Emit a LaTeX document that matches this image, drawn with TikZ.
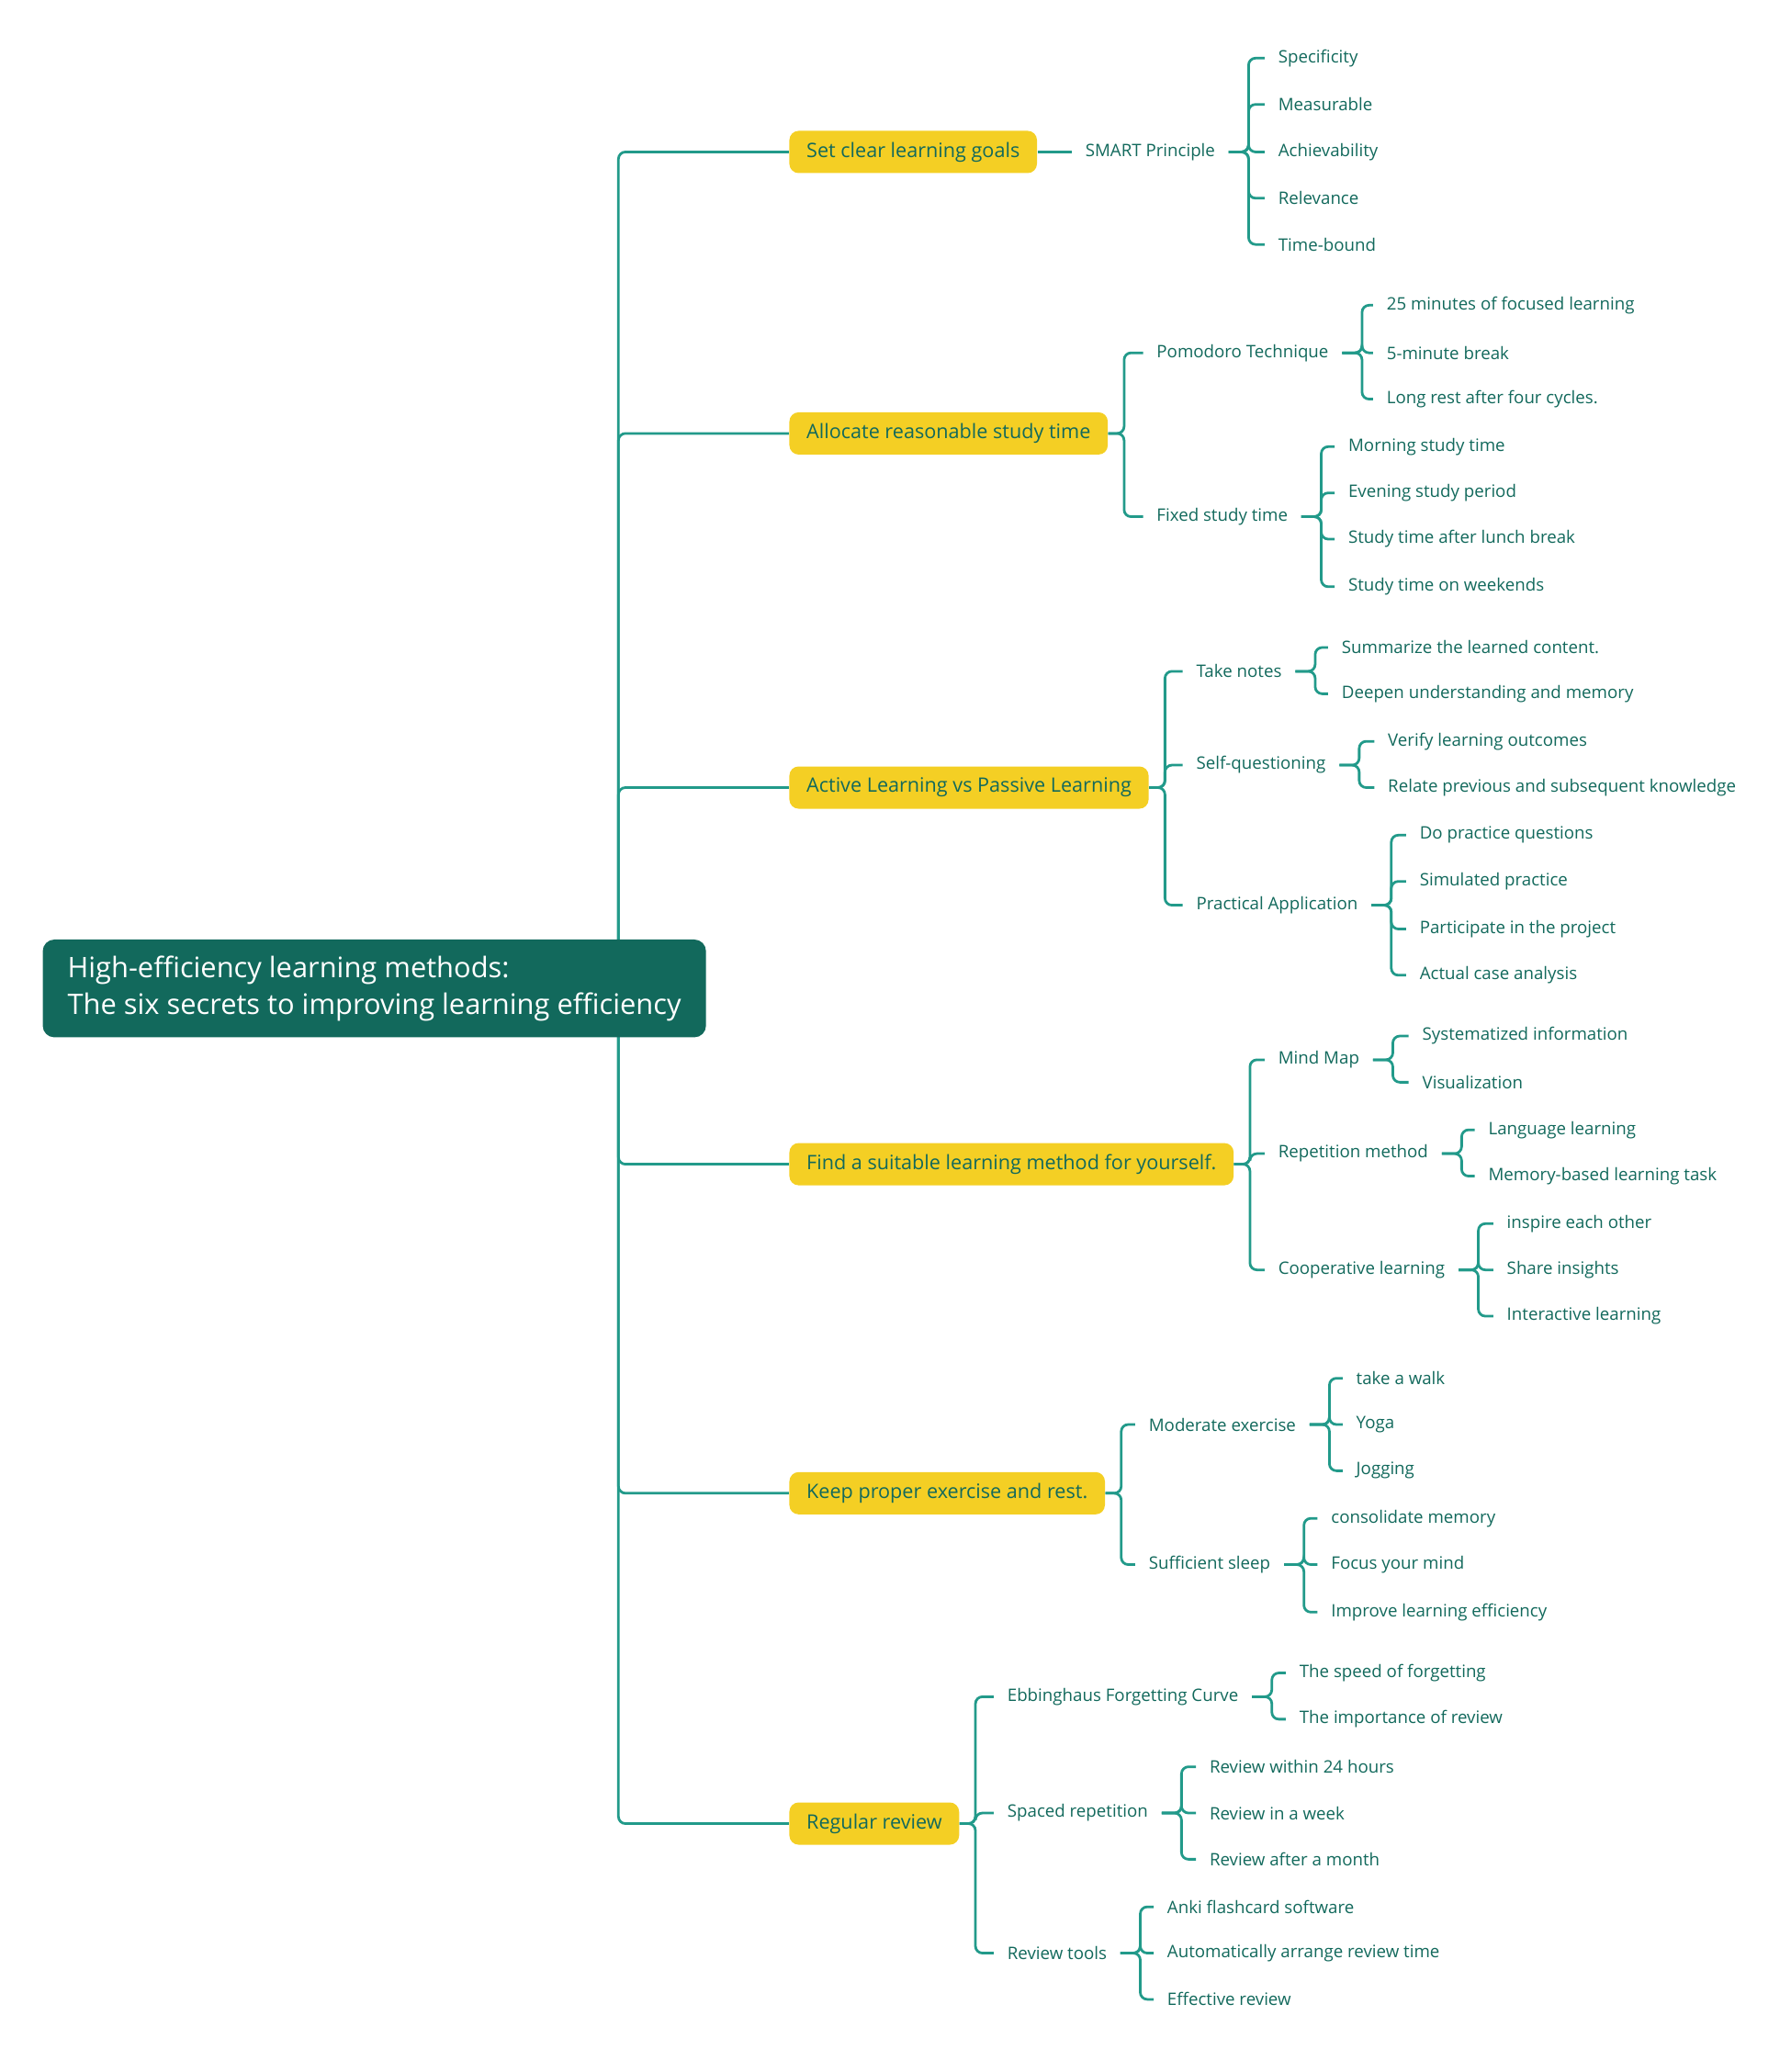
\documentclass[tikz,border=0pt]{standalone}
\usepackage{fontspec}
\setmainfont{Open Sans}
\usetikzlibrary{positioning}

\definecolor{deepteal}{HTML}{12695C}
\definecolor{linkteal}{HTML}{229A8A}
\definecolor{goalyellow}{HTML}{F4CF24}

% one bracket from a parent to its children
\newcommand\branchto[4]{%
  \foreach \c in {#4}{\draw[#1] (#2.east) -- ++(#3,0) |- (\c.west);}}

\begin{document}
\begin{tikzpicture}[
    x=0.02cm, y=-0.02cm,
    link/.style={draw=linkteal, line width=1.1pt, rounded corners=3pt, shorten >=5.7pt},
    sublink/.style={link, shorten <=5.7pt},
    goal/.style={rectangle, fill=goalyellow, rounded corners=4pt, anchor=west,
        minimum height=0.64cm, inner xsep=0.26cm, text=deepteal, font=\fontsize{8.55}{11}\selectfont},
    leaf/.style={anchor=west, inner sep=0pt, text=deepteal, font=\fontsize{7.4}{9}\selectfont},
    root/.style={rectangle, fill=deepteal, rounded corners=5pt, text=white, align=left,
        minimum width=10.04cm, minimum height=1.48cm, inner xsep=0.32cm,
        font=\fontsize{12.2}{16}\selectfont}
]
\useasboundingbox (0,0) rectangle (1355,1568);

% Goals
\node[goal] (g1) at (597,115) {Set clear learning goals};
\node[goal] (g2) at (597,328) {Allocate reasonable study time};
\node[goal] (g3) at (597,596) {Active Learning vs Passive Learning};
\node[goal] (g4) at (597,881) {Find a suitable learning method for yourself.};
\node[goal] (g5) at (597,1130) {Keep proper exercise and rest.};
\node[goal] (g6) at (597,1380) {Regular review};

% Goal 1
\node[leaf] (smart) at (821,115) {SMART Principle};
\node[leaf] (spec) at (967,44) {Specificity};
\node[leaf] (meas) at (967,79) {Measurable};
\node[leaf] (achv) at (967,115) {Achievability};
\node[leaf] (relv) at (967,150) {Relevance};
\node[leaf] (time) at (967,185) {Time-bound};

% Goal 2
\node[leaf] (pomo) at (875,267) {Pomodoro Technique};
\node[leaf] (pomoa) at (1049,231) {25 minutes of focused learning};
\node[leaf] (pomob) at (1049,267) {5-minute break};
\node[leaf] (pomoc) at (1049,302) {Long rest after four cycles.};
\node[leaf] (fixed) at (875,391) {Fixed study time};
\node[leaf] (fixa) at (1020,338) {Morning study time};
\node[leaf] (fixb) at (1020,373) {Evening study period};
\node[leaf] (fixc) at (1020,408) {Study time after lunch break};
\node[leaf] (fixd) at (1020,444) {Study time on weekends};

% Goal 3
\node[leaf] (notes) at (905,508) {Take notes};
\node[leaf] (notea) at (1015,490) {Summarize the learned content.};
\node[leaf] (noteb) at (1015,525) {Deepen understanding and memory};
\node[leaf] (selfq) at (905,579) {Self-questioning};
\node[leaf] (selfa) at (1050,561) {Verify learning outcomes};
\node[leaf] (selfb) at (1050,596) {Relate previous and subsequent knowledge};
\node[leaf] (pract) at (905,685) {Practical Application};
\node[leaf] (practa) at (1074,632) {Do practice questions};
\node[leaf] (practb) at (1074,667) {Simulated practice};
\node[leaf] (practc) at (1074,703) {Participate in the project};
\node[leaf] (practd) at (1074,738) {Actual case analysis};

% Goal 4
\node[leaf] (mind) at (967,802) {Mind Map};
\node[leaf] (minda) at (1076,784) {Systematized information};
\node[leaf] (mindb) at (1076,819) {Visualization};
\node[leaf] (repet) at (967,873) {Repetition method};
\node[leaf] (repa) at (1126,855) {Language learning};
\node[leaf] (repb) at (1126,890) {Memory-based learning task};
\node[leaf] (coop) at (967,961) {Cooperative learning};
\node[leaf] (coopa) at (1140,926) {inspire each other};
\node[leaf] (coopb) at (1140,961) {Share insights};
\node[leaf] (coopc) at (1140,996) {Interactive learning};

% Goal 5
\node[leaf] (exer) at (869,1078) {Moderate exercise};
\node[leaf] (exa) at (1026,1043) {take a walk};
\node[leaf] (exb) at (1026,1078) {Yoga};
\node[leaf] (exc) at (1026,1113) {Jogging};
\node[leaf] (sleep) at (869,1184) {Sufficient sleep};
\node[leaf] (sla) at (1007,1149) {consolidate memory};
\node[leaf] (slb) at (1007,1184) {Focus your mind};
\node[leaf] (slc) at (1007,1220) {Improve learning efficiency};

% Goal 6
\node[leaf] (ebb) at (762,1284) {Ebbinghaus Forgetting Curve};
\node[leaf] (ebba) at (983,1266) {The speed of forgetting};
\node[leaf] (ebbb) at (983,1301) {The importance of review};
\node[leaf] (spaced) at (762,1372) {Spaced repetition};
\node[leaf] (spa) at (915,1337) {Review within 24 hours};
\node[leaf] (spb) at (915,1372) {Review in a week};
\node[leaf] (spc) at (915,1407) {Review after a month};
\node[leaf] (tools) at (762,1478) {Review tools};
\node[leaf] (toa) at (883,1443) {Anki flashcard software};
\node[leaf] (tob) at (883,1478) {Automatically arrange review time};
\node[leaf] (toc) at (883,1513) {Effective review};

% Connectors
\coordinate (trunk) at (468,748);
\foreach \g in {g1,g2,g3,g4,g5,g6}{\draw[link, shorten >=0pt] (trunk) |- (\g.west);}
\draw[link] (g1.east) -- (smart.west);
\branchto{sublink}{smart}{25}{spec,meas,achv,relv,time}
\branchto{link}{g2}{12}{pomo,fixed}
\branchto{sublink}{pomo}{25}{pomoa,pomob,pomoc}
\branchto{sublink}{fixed}{25}{fixa,fixb,fixc,fixd}
\branchto{link}{g3}{12}{notes,selfq,pract}
\branchto{sublink}{notes}{25}{notea,noteb}
\branchto{sublink}{selfq}{25}{selfa,selfb}
\branchto{sublink}{pract}{25}{practa,practb,practc,practd}
\branchto{link}{g4}{12}{mind,repet,coop}
\branchto{sublink}{mind}{25}{minda,mindb}
\branchto{sublink}{repet}{25}{repa,repb}
\branchto{sublink}{coop}{25}{coopa,coopb,coopc}
\branchto{link}{g5}{12}{exer,sleep}
\branchto{sublink}{exer}{25}{exa,exb,exc}
\branchto{sublink}{sleep}{25}{sla,slb,slc}
\branchto{link}{g6}{12}{ebb,spaced,tools}
\branchto{sublink}{ebb}{25}{ebba,ebbb}
\branchto{sublink}{spaced}{25}{spa,spb,spc}
\branchto{sublink}{tools}{25}{toa,tob,toc}

% Root
\node[root, anchor=west] (root) at (32,748) {High-efficiency learning methods:\\The six secrets to improving learning efficiency};
\end{tikzpicture}
\end{document}
